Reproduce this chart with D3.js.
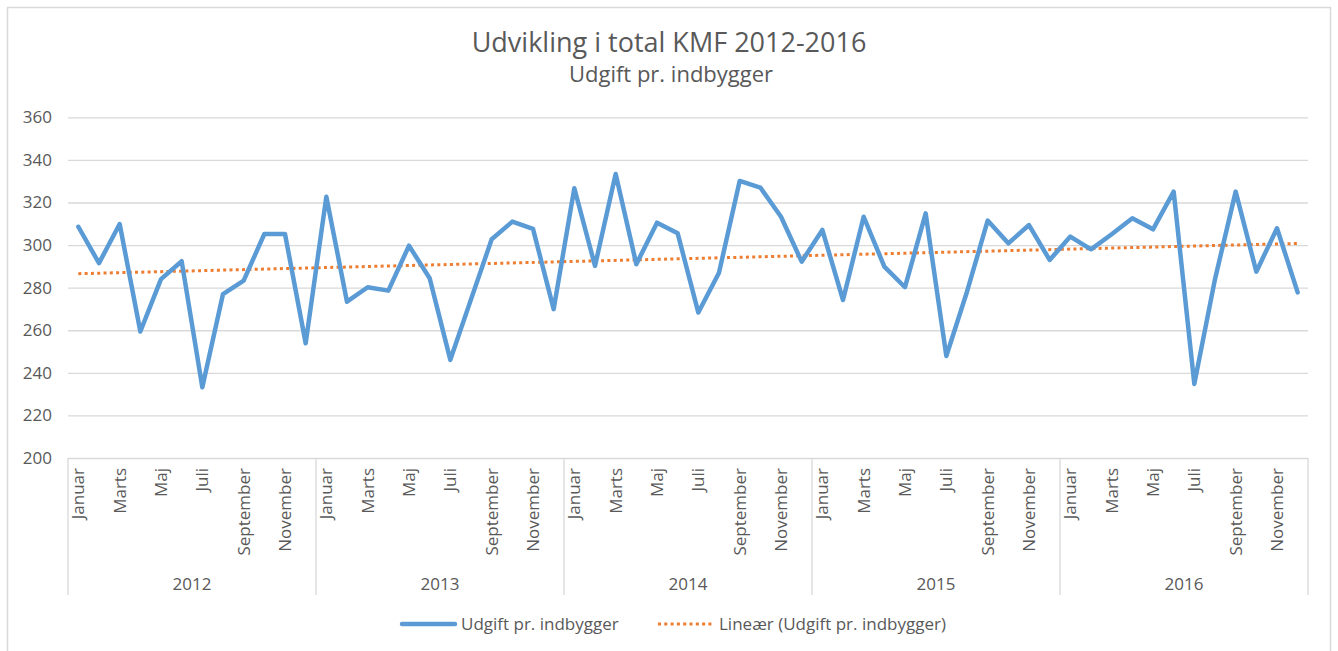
<!DOCTYPE html>
<html lang="da">
<head>
    <meta charset="UTF-8">
    <title>Udvikling i total KMF 2012-2016</title>
    <script src="https://cdn.jsdelivr.net/npm/d3@7"></script>
    <style>
        body { margin: 0; background: #fff; }
        text { font-family: "Open Sans", sans-serif; fill: #595959; }
    </style>
</head>
<body>

<script>
    var years = ["2012", "2013", "2014", "2015", "2016"];
    var months = ["Januar", "Februar", "Marts", "April", "Maj", "Juni",
                  "Juli", "August", "September", "Oktober", "November", "December"];
    var yTicks = [200, 220, 240, 260, 280, 300, 320, 340, 360];
    // udgift pr. indbygger, jan 2012 - dec 2016
    var values = [
        308.6, 291.5, 309.9, 259.4, 284.0, 292.4, 233.2, 277.0, 283.3, 305.2, 305.2, 253.9,
        322.7, 273.4, 280.2, 278.6, 299.7, 284.4, 246.1, 274.5, 302.7, 311.0, 307.6, 269.9,
        326.7, 290.2, 333.4, 291.0, 310.5, 305.5, 268.3, 287.0, 330.1, 327.0, 313.3, 292.2,
        307.1, 274.2, 313.3, 289.9, 280.2, 314.9, 247.9, 278.1, 311.5, 300.8, 309.4, 293.0,
        304.0, 298.0, 305.1, 312.6, 307.4, 325.1, 234.8, 284.0, 325.1, 287.5, 307.9, 277.8
    ];
    var seriesName = "Udgift pr. indbygger";
    var trendName = "Lineær (Udgift pr. indbygger)";

    var width = 1338;
    var height = 651;
    var plotLeft = 68, plotRight = 1308, plotTop = 117.3, plotBottom = 458;

    var svg = d3.select('body')
            .append('svg')
            .attr('width', width)
            .attr('height', height);

    // ramme
    svg.append('rect')
            .attr('x', 7.5).attr('y', 7.5)
            .attr('width', 1323).attr('height', 660)
            .attr('fill', 'none')
            .attr('stroke', '#d9d9d9')
            .attr('stroke-width', 1.5);

    var x = d3.scaleBand()
            .domain(d3.range(values.length))
            .range([plotLeft, plotRight]);
    var y = d3.scaleLinear()
            .domain([200, 360])
            .range([plotBottom, plotTop]);
    var cx = function (i) { return x(i) + x.bandwidth() / 2; };

    // gitterlinjer + y-akse
    var yAxis = svg.append('g')
            .attr('transform', 'translate(' + plotLeft + ',0)')
            .call(d3.axisLeft(y).tickValues(yTicks).tickSize(-(plotRight - plotLeft)).tickPadding(16));
    yAxis.select('.domain').remove();
    yAxis.selectAll('line').attr('stroke', '#d9d9d9').attr('stroke-width', 1.3);
    yAxis.selectAll('text')
            .style('font-size', '17px')
            .style('font-family', '"Open Sans", sans-serif')
            .attr('fill', '#595959');

    // kategoriakse med år
    var yearScale = d3.scaleBand().domain(years).range([plotLeft, plotRight]);
    var seps = years.map(function (d) { return yearScale(d); }).concat([plotRight]);
    svg.selectAll('line.sep')
            .data(seps)
            .enter()
            .append('line')
            .attr('class', 'sep')
            .attr('x1', function (d) { return d; })
            .attr('x2', function (d) { return d; })
            .attr('y1', plotBottom)
            .attr('y2', 595)
            .attr('stroke', '#d9d9d9')
            .attr('stroke-width', 1.3);

    var shown = d3.range(0, values.length, 2);
    svg.selectAll('text.month')
            .data(shown)
            .enter()
            .append('text')
            .attr('class', 'month')
            .attr('transform', function (i) {
                return 'translate(' + (cx(i) + 6) + ',468) rotate(-90)';
            })
            .attr('text-anchor', 'end')
            .style('font-size', '17px')
            .text(function (i) { return months[i % 12]; });

    svg.selectAll('text.year')
            .data(years)
            .enter()
            .append('text')
            .attr('class', 'year')
            .attr('x', function (d) { return yearScale(d) + yearScale.bandwidth() / 2; })
            .attr('y', 590)
            .attr('text-anchor', 'middle')
            .style('font-size', '17px')
            .text(function (d) { return d; });

    // lineær tendenslinje (mindste kvadrater)
    var n = values.length;
    var mx = d3.mean(d3.range(n));
    var my = d3.mean(values);
    var slope = d3.sum(values, function (v, i) { return (i - mx) * (v - my); }) /
                d3.sum(d3.range(n), function (i) { return (i - mx) * (i - mx); });
    var icpt = my - slope * mx;

    svg.append('line')
            .attr('x1', cx(0))
            .attr('y1', y(icpt))
            .attr('x2', cx(n - 1))
            .attr('y2', y(icpt + slope * (n - 1)))
            .attr('stroke', '#ed7d31')
            .attr('stroke-width', 3)
            .attr('stroke-dasharray', '3,3.3');

    var line = d3.line()
            .x(function (d, i) { return cx(i); })
            .y(function (d) { return y(d); });

    svg.append('path')
            .datum(values)
            .attr('d', line)
            .attr('fill', 'none')
            .attr('stroke', '#5b9bd5')
            .attr('stroke-width', 4.5)
            .attr('stroke-linejoin', 'round')
            .attr('stroke-linecap', 'round');

    // titel
    svg.append('text')
            .attr('x', 669).attr('y', 52)
            .attr('text-anchor', 'middle')
            .style('font-size', '27px')
            .text('Udvikling i total KMF 2012-2016');
    svg.append('text')
            .attr('x', 671).attr('y', 82)
            .attr('text-anchor', 'middle')
            .style('font-size', '22px')
            .text('Udgift pr. indbygger');

    // forklaring
    var legend = svg.append('g');
    legend.append('line')
            .attr('x1', 402).attr('x2', 455)
            .attr('y1', 624).attr('y2', 624)
            .attr('stroke', '#5b9bd5')
            .attr('stroke-width', 4.5)
            .attr('stroke-linecap', 'round');
    legend.append('text')
            .attr('x', 461).attr('y', 630)
            .style('font-size', '17px')
            .text(seriesName);
    legend.append('line')
            .attr('x1', 658).attr('x2', 712)
            .attr('y1', 624).attr('y2', 624)
            .attr('stroke', '#ed7d31')
            .attr('stroke-width', 3)
            .attr('stroke-dasharray', '3,3.3');
    legend.append('text')
            .attr('x', 719).attr('y', 630)
            .style('font-size', '17px')
            .text(trendName);
</script>
</body>
</html>
